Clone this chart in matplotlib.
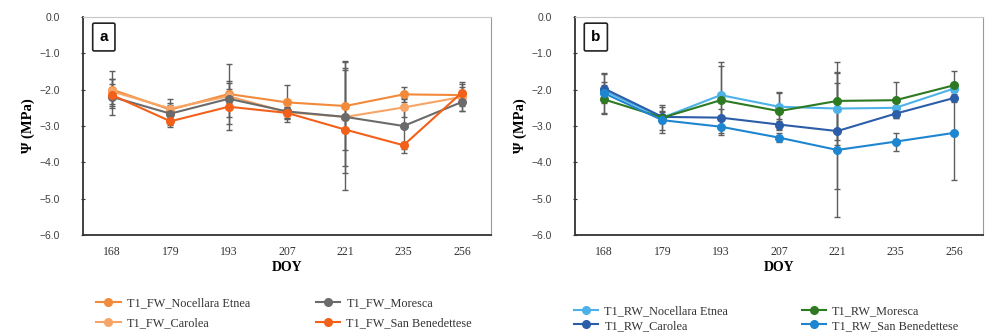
import matplotlib
matplotlib.use("Agg")
import matplotlib.pyplot as plt

doy = ["168", "179", "193", "207", "221", "235", "256"]
yticks = [0.0, -1.0, -2.0, -3.0, -4.0, -5.0, -6.0]

# panel a - FW
fw_labels = ["T1_FW_Nocellara Etnea", "T1_FW_Carolea", "T1_FW_Moresca", "T1_FW_San Benedettese"]
fw_colors = ["#F28A3A", "#F7A566", "#6B6B6B", "#F2601A"]
fw_nocellara = [-2.00, -2.55, -2.12, -2.35, -2.45, -2.13, -2.15]
fw_carolea = [-2.05, -2.52, -2.18, -2.62, -2.75, -2.49, -2.20]
fw_moresca = [-2.20, -2.66, -2.25, -2.60, -2.75, -3.00, -2.34]
fw_sanben = [-2.15, -2.87, -2.47, -2.64, -3.10, -3.53, -2.08]
fw_nocellara_err = [0.50, 0.30, 0.82, 0.47, 1.20, 0.20, 0.30]
fw_carolea_err = [0.35, 0.10, 0.20, 0.15, 1.35, 0.25, 0.40]
fw_moresca_err = [0.50, 0.30, 0.50, 0.28, 1.55, 0.75, 0.25]
fw_sanben_err = [0.30, 0.15, 0.64, 0.15, 1.65, 0.10, 0.15]

# panel b - RW
rw_labels = ["T1_RW_Nocellara Etnea", "T1_RW_Carolea", "T1_RW_Moresca", "T1_RW_San Benedettese"]
rw_colors = ["#4DB2E8", "#2C5DA8", "#2E7A22", "#1E86D0"]
rw_nocellara = [-2.03, -2.77, -2.15, -2.47, -2.52, -2.50, -1.97]
rw_carolea = [-1.97, -2.75, -2.77, -2.96, -3.14, -2.66, -2.23]
rw_moresca = [-2.27, -2.77, -2.29, -2.59, -2.31, -2.29, -1.88]
rw_sanben = [-2.10, -2.84, -3.02, -3.32, -3.66, -3.43, -3.19]
rw_nocellara_err = [0.25, 0.35, 0.90, 0.40, 1.00, 0.15, 0.10]
rw_carolea_err = [0.40, 0.15, 0.25, 0.15, 1.60, 0.12, 0.10]
rw_moresca_err = [0.40, 0.15, 0.95, 0.50, 1.07, 0.50, 0.38]
rw_sanben_err = [0.55, 0.35, 0.18, 0.12, 1.85, 0.25, 1.30]

serif = "Liberation Serif"
sans = "Liberation Sans"

fig = plt.figure(figsize=(9.86, 3.33), dpi=100)
ax_a = fig.add_axes([0.0842, 0.2943, 0.4138, 0.6547])
ax_b = fig.add_axes([0.5832, 0.2943, 0.4138, 0.6547])


def draw_panel(ax, series, errs, labels, colors, letter, leg_anchor, leg_spacing, col_space):
    x = list(range(len(doy)))
    handles = []
    for vals, err in zip(series, errs):
        ax.errorbar(x, vals, yerr=err, fmt="none", ecolor="#5E5E5E",
                    elinewidth=1.0, capsize=2.5, capthick=1.0, zorder=2)
    for vals, lab, col in zip(series, labels, colors):
        h, = ax.plot(x, vals, color=col, lw=1.5, marker="o", ms=5.5,
                     label=lab, zorder=3)
        handles.append(h)

    ax.set_xlim(-0.5, len(doy) - 0.5)
    ax.set_ylim(-6.0, 0.0)
    ax.set_xticks(x)
    ax.set_xticklabels(doy, fontfamily=serif, fontsize=8.5, color="#333333")
    ax.set_yticks(yticks)
    ax.set_yticklabels([f"{v:.1f}".replace("-", "\u2212") for v in yticks],
                       fontfamily=sans, fontsize=7.5, color="#404040")
    ax.tick_params(axis="x", length=0, pad=8)
    ax.tick_params(axis="y", length=3, direction="inout", width=0.8,
                   color="#333333", pad=15)
    for side in ["left", "bottom"]:
        ax.spines[side].set_color("#333333")
        ax.spines[side].set_linewidth(1.3)
    ax.spines["top"].set_color("#C8C8C8")
    ax.spines["right"].set_color("#9A9A9A")
    ax.spines["top"].set_linewidth(0.8)
    ax.spines["right"].set_linewidth(0.8)

    ax.set_xlabel("DOY", fontfamily=serif, fontweight="bold", fontsize=10,
                  labelpad=2)
    ax.set_ylabel("\u03a8 (MPa)", fontfamily=serif, fontweight="bold",
                  fontsize=10.5, labelpad=3)

    ax.text(0.051, 0.908, letter, transform=ax.transAxes, ha="center",
            va="center", fontsize=11, fontweight="bold", family=sans,
            bbox=dict(boxstyle="round,pad=0.45,rounding_size=0.1",
                      fc="white", ec="#222222", lw=1.2), zorder=5)

    leg = ax.legend(handles, labels, ncol=2, loc="upper left",
                    bbox_to_anchor=leg_anchor, frameon=False,
                    prop={"family": serif, "size": 8.8},
                    handlelength=2.0, handletextpad=0.5,
                    columnspacing=col_space, labelspacing=leg_spacing,
                    borderaxespad=0)
    for t in leg.get_texts():
        t.set_color("#333333")


draw_panel(ax_a, [fw_nocellara, fw_carolea, fw_moresca, fw_sanben],
           [fw_nocellara_err, fw_carolea_err, fw_moresca_err, fw_sanben_err],
           fw_labels, fw_colors, "a", (0.02, -0.265), 0.65, 5.4)
draw_panel(ax_b, [rw_nocellara, rw_carolea, rw_moresca, rw_sanben],
           [rw_nocellara_err, rw_carolea_err, rw_moresca_err, rw_sanben_err],
           rw_labels, rw_colors, "b", (-0.015, -0.30), 0.2, 6.0)

fig.savefig("out.png", dpi=100)
